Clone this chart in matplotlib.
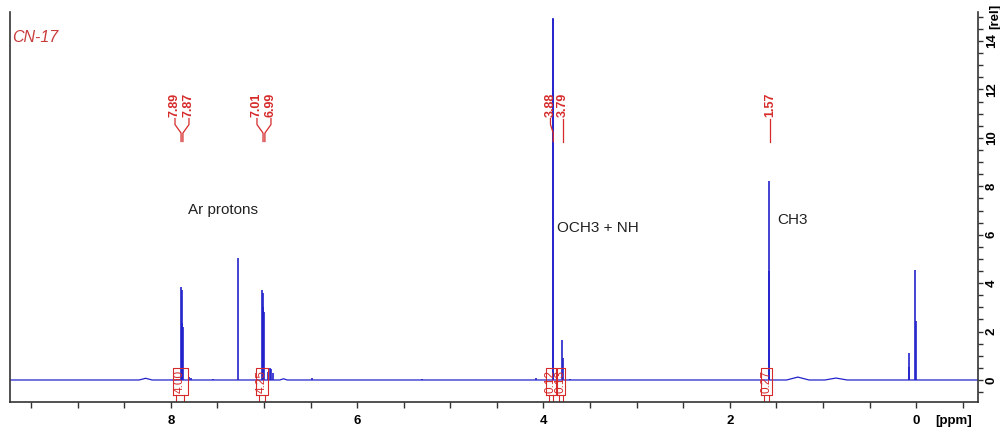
import matplotlib.pyplot as plt
from matplotlib.ticker import MultipleLocator

plt.rcParams['font.family'] = ['Liberation Sans', 'DejaVu Sans']

# 1H NMR spectrum of CN-17
peak_ppm = [7.887, 7.885, 7.883, 7.881, 7.879, 7.876, 7.873,
            7.80, 7.78, 7.55, 7.277,
            7.018, 7.015, 7.012, 7.009, 7.006, 7.003, 6.96, 6.94, 6.92, 6.90,
            6.48, 5.30, 4.08,
            3.896, 3.893, 3.80, 3.795, 3.71,
            1.583, 1.579,
            0.08, 0.075, 0.008, 0.004]
peak_int = [3.85, 2.35, 2.3, 2.3, 3.7, 2.2, 2.2,
            0.12, 0.1, 0.06, 5.03,
            3.7, 3.0, 2.9, 2.9, 3.6, 2.8, 0.35, 0.5, 0.45, 0.3,
            0.08, 0.05, 0.1,
            14.95, 14.9, 1.65, 0.9, 0.05,
            8.22, 4.5,
            1.1, 0.55, 4.55, 2.45]

# broad humps: centre, height, half width (ppm)
hump_ppm = [8.27, 6.79, 1.27, 0.86]
hump_int = [0.07, 0.05, 0.12, 0.08]
hump_hw = [0.07, 0.04, 0.12, 0.12]

# peak picking labels
shift_labels = ['7.89', '7.87', '7.01', '6.99', '3.88', '3.79', '1.57']
shift_ppm = [7.89, 7.87, 7.01, 6.99, 3.895, 3.79, 1.57]
label_offset = [0.065, -0.065, 0.065, -0.065, 0.03, 0.0, 0.0]

# integrals
integral_labels = ['4.00', '4.25', '0.12', '0.13', '0.27']
integral_from = [7.98, 7.09, 3.97, 3.86, 1.66]
integral_to = [7.82, 6.96, 3.87, 3.77, 1.55]

blue = '#2222cc'
red = '#d62a2a'

fig = plt.figure(figsize=(10, 4.28), dpi=100)
ax = fig.add_axes([0.01, 0.0607, 0.968, 0.9113])
ax.set_xlim(9.726, -0.664)
ax.set_ylim(-0.91, 15.2)

# baseline with humps
xs = [9.726]
ys = [0.0]
for c, h, w in sorted(zip(hump_ppm, hump_int, hump_hw), reverse=True):
    xs += [c + w, c, c - w]
    ys += [0.0, h, 0.0]
xs.append(-0.664)
ys.append(0.0)
ax.plot(xs, ys, color=blue, lw=0.9)

ax.vlines(peak_ppm, 0, peak_int, color=blue, lw=1.2)

# peak labels with connectors
for lab, s, off in zip(shift_labels, shift_ppm, label_offset):
    lx = s + off
    ax.text(lx, 10.85, lab, rotation=90, ha='center', va='bottom',
            color=red, fontsize=9, fontweight='bold')
    ax.plot([lx, lx, s, s], [10.8, 10.55, 10.2, 9.85], color=red, lw=0.9)

# integral brackets
for lab, a, b in zip(integral_labels, integral_from, integral_to):
    w = a - b
    ax.plot([a, a, b, b, a], [-0.62, 0.5, 0.5, -0.62, -0.62], color=red, lw=0.8)
    ax.plot([a - 0.25 * w, a - 0.25 * w], [-0.62, -0.91], color=red, lw=0.8)
    ax.plot([b + 0.25 * w, b + 0.25 * w], [-0.62, -0.91], color=red, lw=0.8)
    ax.text((a + b) / 2, -0.06, lab, rotation=90, ha='center', va='center',
            color=red, fontsize=8.5)

# assignment notes
ax.text(7.814, 7.02, 'Ar protons', fontsize=11, va='center', color='#222222')
ax.text(3.852, 6.28, 'OCH3 + NH', fontsize=11, va='center', color='#222222')
ax.text(1.49, 6.61, 'CH3', fontsize=11, va='center', color='#222222')
ax.text(9.70, 14.13, 'CN-17', fontsize=11.5, style='italic', va='center', color='#c83c3c')

# axes styling
ax.spines['top'].set_visible(False)
for sp in ['left', 'right', 'bottom']:
    ax.spines[sp].set_color('#333333')
    ax.spines[sp].set_linewidth(1.2)

ax.xaxis.set_major_locator(MultipleLocator(2))
ax.xaxis.set_minor_locator(MultipleLocator(0.5))
ax.tick_params(axis='x', which='both', direction='out', length=4.5, width=1.0,
               color='#333333', pad=4.5, labelsize=9.5)
for t in ax.get_xticklabels():
    t.set_fontweight('bold')

ax.yaxis.tick_right()
ax.yaxis.set_major_locator(MultipleLocator(2))
ax.yaxis.set_minor_locator(MultipleLocator(0.5))
ax.tick_params(axis='y', which='both', direction='out', length=3.5, width=1.0,
               color='#333333', pad=2, labelsize=9.5, labelrotation=90)
ax.set_yticks(range(0, 15, 2))
for t in ax.get_yticklabels():
    t.set_fontweight('bold')
    t.set_va('center')

ax.text(0.975, -0.048, '[ppm]', transform=ax.transAxes, ha='center', va='center',
        fontsize=9.5, fontweight='bold', clip_on=False)
ax.text(1.012, 14.5, '[rel]', rotation=90, transform=ax.get_yaxis_transform(),
        ha='left', va='bottom', fontsize=9.5, fontweight='bold', clip_on=False)

fig.savefig('out.png', dpi=100)
